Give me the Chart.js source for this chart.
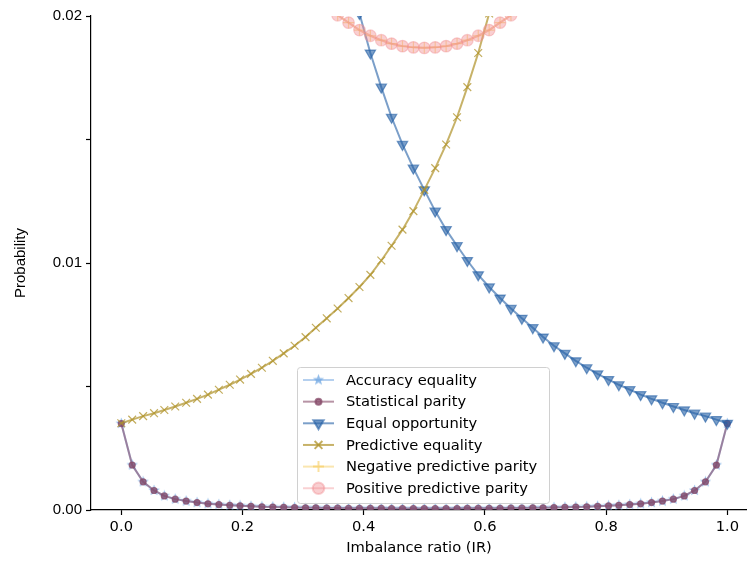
<!DOCTYPE html>
<html>
<head>
<meta charset="utf-8">
<script src="https://cdn.jsdelivr.net/npm/chart.js@4.4.0/dist/chart.umd.min.js"></script>
<style>
  html, body { margin: 0; padding: 0; background: #fff; }
  #wrap { width: 747px; height: 561px; position: relative; }
</style>
</head>
<body>
<div id="wrap"><canvas id="fairnessChart"></canvas></div>
<script>
// IR grid (k / 56)
const imbalanceRatio = [0, 0.018, 0.036, 0.054, 0.071, 0.089, 0.107, 0.125, 0.143, 0.161,
  0.179, 0.196, 0.214, 0.232, 0.25, 0.268, 0.286, 0.304, 0.321, 0.339,
  0.357, 0.375, 0.393, 0.411, 0.429, 0.446, 0.464, 0.482, 0.5, 0.518,
  0.536, 0.554, 0.571, 0.589, 0.607, 0.625, 0.643, 0.661, 0.679, 0.696,
  0.714, 0.732, 0.75, 0.768, 0.786, 0.804, 0.821, 0.839, 0.857, 0.875,
  0.893, 0.911, 0.929, 0.946, 0.964, 0.982, 1];

const accuracyEquality = [0.00350, 0.00182, 0.00114, 0.00079, 0.00057, 0.00044, 0.00036, 0.00030, 0.00025, 0.00022,
  0.00019, 0.00017, 0.00015, 0.00013, 0.00012, 0.00011, 0.00010, 0.00009, 0.00009, 0.00008,
  0.00008, 0.00007, 0.00007, 0.00007, 0.00007, 0.00006, 0.00006, 0.00006, 0.00006, 0.00006,
  0.00006, 0.00006, 0.00007, 0.00007, 0.00007, 0.00007, 0.00008, 0.00008, 0.00009, 0.00009,
  0.00010, 0.00011, 0.00012, 0.00013, 0.00015, 0.00017, 0.00019, 0.00022, 0.00025, 0.00030,
  0.00036, 0.00044, 0.00057, 0.00079, 0.00114, 0.00182, 0.00350];

const statisticalParity = [0.00350, 0.00182, 0.00114, 0.00079, 0.00057, 0.00044, 0.00036, 0.00030, 0.00025, 0.00022,
  0.00019, 0.00017, 0.00015, 0.00013, 0.00012, 0.00011, 0.00010, 0.00009, 0.00009, 0.00008,
  0.00008, 0.00007, 0.00007, 0.00007, 0.00007, 0.00006, 0.00006, 0.00006, 0.00006, 0.00006,
  0.00006, 0.00006, 0.00007, 0.00007, 0.00007, 0.00007, 0.00008, 0.00008, 0.00009, 0.00009,
  0.00010, 0.00011, 0.00012, 0.00013, 0.00015, 0.00017, 0.00019, 0.00022, 0.00025, 0.00030,
  0.00036, 0.00044, 0.00057, 0.00079, 0.00114, 0.00182, 0.00350];

// values above 0.02 are off the plot; null where they can't be read
const equalOpportunity = [null, null, null, null, null, null, null, null, null, null,
  null, null, null, null, null, null, null, null, null, null,
  null, 0.02180, 0.02010, 0.01850, 0.01712, 0.01590, 0.01480, 0.01384, 0.01296, 0.01210,
  0.01135, 0.01070, 0.01010, 0.00952, 0.00903, 0.00858, 0.00816, 0.00776, 0.00738, 0.00700,
  0.00665, 0.00634, 0.00604, 0.00576, 0.00551, 0.00528, 0.00507, 0.00487, 0.00467, 0.00450,
  0.00434, 0.00419, 0.00405, 0.00392, 0.00380, 0.00366, 0.00351];

const predictiveEquality = [0.00351, 0.00366, 0.00380, 0.00392, 0.00405, 0.00419, 0.00434, 0.00450, 0.00467, 0.00487,
  0.00507, 0.00528, 0.00551, 0.00576, 0.00604, 0.00634, 0.00665, 0.00700, 0.00738, 0.00776,
  0.00816, 0.00858, 0.00903, 0.00952, 0.01010, 0.01070, 0.01135, 0.01210, 0.01296, 0.01384,
  0.01480, 0.01590, 0.01712, 0.01850, 0.02010, 0.02180, null, null, null, null,
  null, null, null, null, null, null, null, null, null, null,
  null, null, null, null, null, null, null];

const negativePredictiveParity = [null, null, null, null, null, null, null, null, null, null,
  null, null, null, null, null, null, null, null, null, 0.02040,
  0.02003, 0.01973, 0.01943, 0.01920, 0.01902, 0.01888, 0.01878, 0.01873, 0.01871, 0.01873,
  0.01878, 0.01888, 0.01902, 0.01920, 0.01943, 0.01973, 0.02003, 0.02040, null, null,
  null, null, null, null, null, null, null, null, null, null,
  null, null, null, null, null, null, null];

const positivePredictiveParity = [null, null, null, null, null, null, null, null, null, null,
  null, null, null, null, null, null, null, null, null, 0.02040,
  0.02003, 0.01973, 0.01943, 0.01920, 0.01902, 0.01888, 0.01878, 0.01873, 0.01871, 0.01873,
  0.01878, 0.01888, 0.01902, 0.01920, 0.01943, 0.01973, 0.02003, 0.02040, null, null,
  null, null, null, null, null, null, null, null, null, null,
  null, null, null, null, null, null, null];

const seriesNames = ['Accuracy equality', 'Statistical parity', 'Equal opportunity',
  'Predictive equality', 'Negative predictive parity', 'Positive predictive parity'];

const xTicks = [0, 0.2, 0.4, 0.6, 0.8, 1.0];
const xTickLabels = ['0.0', '0.2', '0.4', '0.6', '0.8', '1.0'];
const yTicks = [0, 0.005, 0.01, 0.015, 0.02];
const yTickLabels = ['0.00', '', '0.01', '', '0.02'];

function toPoints(values) {
  return imbalanceRatio.map((x, i) => ({ x: x, y: values[i] }));
}

// matplotlib-like filled star marker
function makeStar(color, size) {
  const c = document.createElement('canvas');
  c.width = size; c.height = size;
  const g = c.getContext('2d');
  const cx = size / 2, cy = size / 2, ro = size / 2 - 0.5, ri = ro * 0.42;
  g.beginPath();
  for (let i = 0; i < 10; i++) {
    const r = i % 2 === 0 ? ro : ri;
    const a = -Math.PI / 2 + i * Math.PI / 5;
    g.lineTo(cx + r * Math.cos(a), cy + r * Math.sin(a));
  }
  g.closePath();
  g.fillStyle = color;
  g.fill();
  return c;
}

const starMarker = makeStar('rgba(110,165,225,0.75)', 13);

const styles = [
  { line: 'rgba(120,170,225,0.55)', fill: 'rgba(110,165,225,0.6)', point: starMarker, radius: 6, rot: 0 },
  { line: 'rgba(135,75,105,0.6)', fill: 'rgba(135,75,105,0.75)', point: 'circle', radius: 3, rot: 0 },
  { line: 'rgba(35,95,165,0.6)', fill: 'rgba(35,95,165,0.6)', point: 'triangle', radius: 6, rot: 180 },
  { line: 'rgba(175,145,40,0.7)', fill: 'rgba(175,145,40,0.75)', point: 'crossRot', radius: 5.5, rot: 0 },
  { line: 'rgba(245,200,80,0.45)', fill: 'rgba(245,200,80,0.55)', point: 'cross', radius: 5.5, rot: 0 },
  { line: 'rgba(240,140,145,0.4)', fill: 'rgba(240,140,145,0.42)', point: 'circle', radius: 5.8, rot: 0 }
];

const seriesValues = [accuracyEquality, statisticalParity, equalOpportunity,
  predictiveEquality, negativePredictiveParity, positivePredictiveParity];

const datasets = seriesValues.map((vals, i) => ({
  label: seriesNames[i],
  data: toPoints(vals),
  borderColor: styles[i].line,
  backgroundColor: styles[i].fill,
  borderWidth: 2,
  pointStyle: styles[i].point,
  pointRadius: styles[i].radius,
  pointRotation: styles[i].rot,
  pointBackgroundColor: styles[i].fill,
  pointBorderColor: styles[i].fill,
  pointBorderWidth: 1.2,
  tension: 0,
  spanGaps: false,
  clip: 0,
  order: 6 - i
}));

// legend box drawn inside the axes, like matplotlib's "best" placement
const insideLegend = {
  id: 'insideLegend',
  afterDraw(chart) {
    const ctx = chart.ctx;
    const bx = 297, by = 367, bw = 252, bh = 136;
    ctx.save();
    ctx.beginPath();
    ctx.roundRect(bx + 0.5, by + 0.5, bw, bh, 3);
    ctx.fillStyle = 'rgba(255,255,255,0.8)';
    ctx.fill();
    ctx.strokeStyle = '#d0d0d0';
    ctx.lineWidth = 1;
    ctx.stroke();
    ctx.font = '14.7px "DejaVu Sans"';
    ctx.textBaseline = 'middle';
    seriesNames.forEach((name, i) => {
      const y = 380 + i * 21.65;
      ctx.beginPath();
      ctx.moveTo(303, y);
      ctx.lineTo(334, y);
      ctx.strokeStyle = styles[i].line;
      ctx.lineWidth = 2;
      ctx.stroke();
      ctx.fillStyle = styles[i].fill;
      ctx.strokeStyle = styles[i].fill;
      Chart.helpers.drawPoint(ctx, {
        pointStyle: styles[i].point,
        radius: styles[i].radius,
        rotation: styles[i].rot,
        borderWidth: 1.2
      }, 318.5, y);
      ctx.fillStyle = '#000';
      ctx.fillText(name, 346, y + 1);
    });
    ctx.restore();
  }
};

const ctx = document.getElementById('fairnessChart').getContext('2d');

let fairnessChart = new Chart(ctx, {
  type: 'line',
  data: { datasets: datasets },
  plugins: [insideLegend],
  options: {
    responsive: true,
    maintainAspectRatio: false,
    animation: false,
    events: [],
    layout: { autoPadding: false, padding: { top: 16, right: 0, bottom: 0, left: 0 } },
    plugins: {
      legend: { display: false },
      tooltip: { enabled: false }
    },
    scales: {
      x: {
        type: 'linear',
        min: -0.05,
        max: 1.0325,
        afterBuildTicks: s => { s.ticks = xTicks.map(v => ({ value: v })); },
        afterFit: s => { s.height = 51; s.paddingLeft = 0; s.paddingRight = 0; },
        ticks: {
          callback: (v, i) => xTickLabels[i],
          font: { family: 'DejaVu Sans', size: 14.7 },
          color: '#000',
          padding: 3,
          maxRotation: 0,
          autoSkip: false
        },
        grid: { drawOnChartArea: false, tickLength: 5, tickColor: '#000', tickWidth: 1.2 },
        border: { color: '#000', width: 1.2 },
        title: {
          display: true,
          text: 'Imbalance ratio (IR)',
          font: { family: 'DejaVu Sans', size: 14.7 },
          color: '#000',
          padding: { top: 0, bottom: 4 }
        }
      },
      y: {
        type: 'linear',
        min: 0,
        max: 0.02,
        afterBuildTicks: s => { s.ticks = yTicks.map(v => ({ value: v })); },
        afterFit: s => { s.width = 91; s.paddingTop = 0; s.paddingBottom = 0; },
        ticks: {
          callback: (v, i) => yTickLabels[i],
          font: { family: 'Liberation Sans', size: 15 },
          color: '#000',
          padding: 4
        },
        grid: { drawOnChartArea: false, tickLength: 5, tickColor: '#000', tickWidth: 1.2 },
        border: { color: '#000', width: 1.2 },
        title: {
          display: true,
          text: 'Probability',
          font: { family: 'Liberation Sans', size: 15 },
          color: '#000',
          padding: { top: 12, bottom: 0 }
        }
      }
    }
  }
});
</script>
</body>
</html>
